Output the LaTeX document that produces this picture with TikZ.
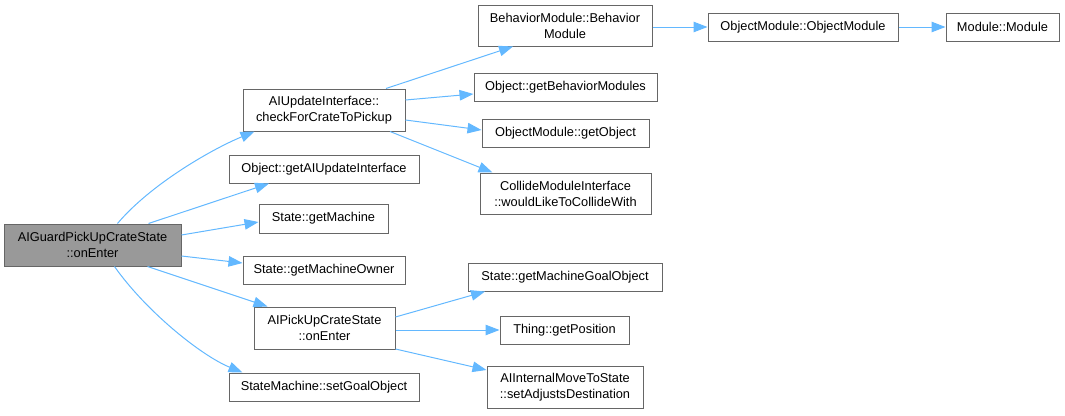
\documentclass[tikz,border=0pt]{standalone}
\usepackage{fontspec}
\setmainfont{Liberation Sans}
\usepackage{tikz}
\usetikzlibrary{arrows.meta}
\definecolor{edgeblue}{HTML}{63B8FF}
\definecolor{boxline}{HTML}{666666}
\definecolor{mainfill}{HTML}{999999}

\begin{document}
\begin{tikzpicture}[x=1pt,y=-1pt,
  fn/.style={draw=boxline,line width=1pt,fill=white,inner sep=0pt,align=center,
    font=\fontsize{12.8}{16}\selectfont,minimum height=28pt},
  call/.style={draw=edgeblue,line width=1pt,-{Triangle[length=14pt,width=10.5pt]}}]
\useasboundingbox (0,0) rectangle (1065,415);
% caller
\node[fn,fill=mainfill,minimum width=177pt,minimum height=42pt] (main) at (92.5,245) {AIGuardPickUpCrateState\\::onEnter};
% first level
\node[fn,minimum width=162pt,minimum height=42pt] (chk) at (324,110) {AIUpdateInterface::\\checkForCrateToPickup};
\node[fn,minimum width=190pt] (gai) at (324,169) {Object::getAIUpdateInterface};
\node[fn,minimum width=129pt,minimum height=29pt] (gm) at (323.5,218.5) {State::getMachine};
\node[fn,minimum width=162pt] (gmo) at (324,270) {State::getMachineOwner};
\node[fn,minimum width=141pt,minimum height=42pt] (pick) at (324.5,328) {AIPickUpCrateState\\::onEnter};
\node[fn,minimum width=190pt] (sgo) at (324,387) {StateMachine::setGoalObject};
% second level
\node[fn,minimum width=174pt,minimum height=41pt] (bm) at (565,25.5) {BehaviorModule::Behavior\\Module};
\node[fn,minimum width=183pt] (gbm) at (565.5,87) {Object::getBehaviorModules};
\node[fn,minimum width=167pt] (gob) at (565.5,133) {ObjectModule::getObject};
\node[fn,minimum width=171pt,minimum height=41pt] (cmi) at (565.5,193.5) {CollideModuleInterface\\::wouldLikeToCollideWith};
\node[fn,minimum width=194pt] (gmgo) at (565,277) {State::getMachineGoalObject};
\node[fn,minimum width=129pt] (gpos) at (564.5,330) {Thing::getPosition};
\node[fn,minimum width=156pt,minimum height=42pt] (sad) at (565,387) {AIInternalMoveToState\\::setAdjustsDestination};
% third level
\node[fn,minimum width=190pt] (om) at (803,27) {ObjectModule::ObjectModule};
\node[fn,minimum width=113pt] (mod) at (1002.5,27) {Module::Module};

% calls from the caller
\draw[call] ([xshift=25pt]main.north) .. controls (150,185) and (210,150) .. ([xshift=12pt]chk.south west);
\draw[call] ([xshift=56pt]main.north) -- ([xshift=-55pt]gai.south);
\draw[call] ([yshift=10pt]main.east) -- ([yshift=-3.5pt]gm.west);
\draw[call] ([yshift=-11pt]main.east) -- ([yshift=7pt]gmo.west);
\draw[call] ([xshift=55pt]main.south) -- ([xshift=-57pt]pick.north);
\draw[call] ([xshift=22pt]main.south) .. controls (145,310) and (200,355) .. ([xshift=14pt]sgo.north west);
% calls from checkForCrateToPickup
\draw[call] ([xshift=62pt]chk.north) -- ([xshift=-52pt]bm.south);
\draw[call] ([yshift=10pt]chk.east) -- ([yshift=-7pt]gbm.west);
\draw[call] ([yshift=-10pt]chk.east) -- ([yshift=3pt]gob.west);
\draw[call] ([xshift=66pt]chk.south) -- ([xshift=-73pt]cmi.north);
\draw[call] (bm.east |- om) -- (om.west);
\draw[call] (om) -- (mod);
% calls from AIPickUpCrateState::onEnter
\draw[call] ([yshift=11pt]pick.east) -- ([xshift=-80pt]gmgo.south);
\draw[call] (pick.east |- gpos) -- (gpos.west);
\draw[call] ([yshift=-21pt]pick.east) -- ([yshift=17pt]sad.west);
\end{tikzpicture}
\end{document}
